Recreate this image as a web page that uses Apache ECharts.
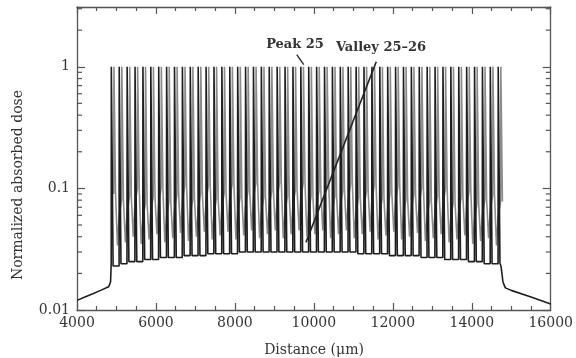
<!DOCTYPE html>
<html><head><meta charset="utf-8">
<script src="https://cdn.jsdelivr.net/npm/echarts@6/dist/echarts.min.js"></script>
<style>html,body{margin:0;padding:0;background:#fff}#c{width:576px;height:358px}</style>
</head><body><div id="c"></div>
<script>
// ---- data ----
const xTicks = [4000, 6000, 8000, 10000, 12000, 14000, 16000];
const yTickLabels = ['0.01', '0.1', '1'];
const yMinorTicks = [0.02,0.03,0.04,0.05,0.06,0.07,0.08,0.09,0.2,0.3,0.4,0.5,0.6,0.7,0.8,0.9,2,3];
const peakX = [4900,5100,5300,5500,5700,5900,6100,6300,6500,6700,6900,7100,7300,7500,7700,7900,8100,8300,8500,8700,
  8900,9100,9300,9500,9700,9900,10100,10300,10500,10700,10900,11100,11300,11500,11700,11900,12100,12300,12500,12700,
  12900,13100,13300,13500,13700,13900,14100,14300,14500,14700];
const peakHeight = [1,1,1,1,1,1,1,1,1,1,1,1,1,1,1,1,1,1,1,1,1,1,1,1,1,1,1,1,1,1,1,1,1,1,1,1,1,1,1,1,1,1,1,1,1,1,1,1,1,1];
const blackValley = [0.023,0.024,0.025,0.025,0.026,0.026,0.027,0.027,0.027,0.028,0.028,0.028,0.029,0.029,0.029,0.029,
  0.030,0.030,0.030,0.030,0.030,0.030,0.030,0.030,0.030,0.030,0.030,0.030,0.030,0.030,0.030,0.029,0.029,0.029,0.029,
  0.028,0.028,0.028,0.028,0.027,0.027,0.027,0.026,0.026,0.026,0.025,0.025,0.024,0.024];
const grayValley = [0.034,0.036,0.040,0.035,0.038,0.042,0.036,0.039,0.043,0.037,0.040,0.044,0.038,0.041,0.044,0.038,
  0.041,0.045,0.039,0.042,0.045,0.039,0.042,0.045,0.040,0.042,0.045,0.039,0.042,0.045,0.039,0.042,0.044,0.038,0.041,
  0.044,0.038,0.040,0.043,0.037,0.039,0.042,0.036,0.038,0.041,0.035,0.037,0.039,0.034];
const grayShoulder = [0.090,0.080,0.085,0.100,0.075,0.085,0.100,0.078,0.088,0.105,0.080,0.090,0.105,0.082,0.092,0.108,
  0.084,0.094,0.110,0.084,0.094,0.110,0.086,0.096,0.110,0.086,0.096,0.110,0.086,0.094,0.108,0.084,0.094,0.106,0.082,
  0.090,0.104,0.080,0.088,0.100,0.078,0.086,0.098,0.076,0.084,0.094,0.074,0.080,0.088,0.078];
const tailLeftX = [4000, 4200, 4400, 4600, 4800, 4850, 4865];
const tailLeftY = [0.0120, 0.0128, 0.0136, 0.0145, 0.0155, 0.0170, 0.0230];
const tailRightX = [14740, 14790, 14850, 15000, 15500, 16000];
const tailRightY = [0.0230, 0.0170, 0.0152, 0.0145, 0.0128, 0.0112];
const peakArrow = [[9567, 1.26], [9743, 1.04]];
const valleyArrow = [[11580, 1.10], [9800, 0.036]];

// ---- build series data ----
const black = [];
tailLeftX.forEach((x, i) => black.push([x, tailLeftY[i]]));
peakX.forEach((p, i) => {
  const lf = i === 0 ? 0.026 : blackValley[i - 1];
  const rf = i === peakX.length - 1 ? 0.024 : blackValley[i];
  black.push([p - 34, lf], [p - 30, peakHeight[i]], [p + 10, peakHeight[i]], [p + 14, rf]);
});
tailRightX.forEach((x, i) => black.push([x, tailRightY[i]]));

const gray = [];
peakX.forEach((p, i) => {
  gray.push([p + 30, grayShoulder[i]], [p + 36, peakHeight[i]], [p + 70, peakHeight[i]], [p + 76, grayShoulder[i]]);
  if (i < grayValley.length) gray.push([p + 125, grayValley[i]], [p + 168, grayShoulder[i + 1] * 0.75]);
});

const FONT = 'DejaVu Serif';
const axisCol = '#555';
const chart = echarts.init(document.getElementById('c'), null, {renderer: 'canvas'});
const xCommon = {
  type: 'value', min: 4000, max: 16000, interval: 2000,
  axisLine: {show: true, lineStyle: {color: axisCol, width: 1.3}},
  axisTick: {show: true, inside: true, length: 7, lineStyle: {color: axisCol, width: 1.2}},
  minorTick: {show: true, splitNumber: 4, length: 4, lineStyle: {color: axisCol, width: 1.2}},
  splitLine: {show: false}
};
const yCommon = {
  type: 'log', logBase: 10, min: 0.01, max: 3.1, interval: 1,
  axisLine: {show: true, lineStyle: {color: axisCol, width: 1.3}},
  axisTick: {show: true, inside: true, length: 8, lineStyle: {color: axisCol, width: 1.2}},
  splitLine: {show: false}
};
chart.setOption({
  animation: false,
  grid: {left: 77, right: 25, top: 7, bottom: 48},
  xAxis: [
    Object.assign({}, xCommon, {position: 'bottom',
      axisLabel: {show: true, color: '#333', fontFamily: FONT, fontSize: 14, margin: 6,
        formatter: v => xTicks.indexOf(v) >= 0 ? String(v) : ''}}),
    Object.assign({}, xCommon, {position: 'top', axisLabel: {show: false}})
  ],
  yAxis: [
    Object.assign({}, yCommon, {position: 'left',
      axisLabel: {show: true, color: '#333', fontFamily: FONT, fontSize: 14, margin: 7,
        formatter: v => { const s = String(+v.toPrecision(3)); return yTickLabels.indexOf(s) >= 0 ? s : ''; }}}),
    Object.assign({}, yCommon, {position: 'right', axisLabel: {show: false}})
  ],
  series: [
    {type: 'line', data: gray, xAxisIndex: 0, yAxisIndex: 0, symbol: 'none', z: 2,
      lineStyle: {color: '#8c8c8c', width: 1.6}},
    {type: 'line', data: black, xAxisIndex: 0, yAxisIndex: 0, symbol: 'none', z: 3,
      lineStyle: {color: '#1e1e1e', width: 1.6}},
    {type: 'line', data: peakArrow, symbol: 'none', z: 4, lineStyle: {color: '#222', width: 1.3}},
    {type: 'line', data: valleyArrow, symbol: 'none', z: 4, lineStyle: {color: '#222', width: 1.6}},
    {type: 'custom', z: 5, silent: true, clip: false,
      data: yMinorTicks.map(v => [v]),
      renderItem: (params, api) => {
        const v = api.value(0);
        const l = api.coord([4000, v]);
        const r = api.coord([16000, v]);
        const st = {stroke: axisCol, lineWidth: 1.2};
        return {type: 'group', children: [
          {type: 'line', shape: {x1: l[0], y1: l[1], x2: l[0] + 5, y2: l[1]}, style: st},
          {type: 'line', shape: {x1: r[0], y1: r[1], x2: r[0] - 5, y2: r[1]}, style: st}
        ]};
      }}
  ],
  graphic: [
    {type: 'text', x: 18, y: 185, rotation: Math.PI / 2, style: {text: 'Normalized absorbed dose', fontFamily: FONT, fontSize: 14, fill: '#333', align: 'center', verticalAlign: 'middle'}},
    {type: 'text', x: 314, y: 350, style: {text: 'Distance (\u03bcm)', fontFamily: FONT, fontSize: 14, fill: '#333', align: 'center', verticalAlign: 'middle'}},
    {type: 'text', x: 295, y: 45, style: {text: 'Peak 25', fontFamily: FONT, fontSize: 13, fontWeight: 'bold', fill: '#333', align: 'center', verticalAlign: 'middle'}},
    {type: 'text', x: 381, y: 48, style: {text: 'Valley 25\u201326', fontFamily: FONT, fontSize: 13, fontWeight: 'bold', fill: '#333', align: 'center', verticalAlign: 'middle'}}
  ]
});
</script></body></html>
